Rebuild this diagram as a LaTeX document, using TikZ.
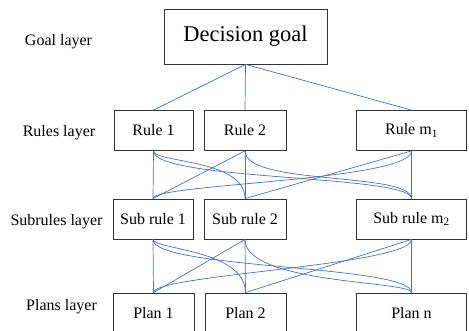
\documentclass[tikz,border=0pt]{standalone}
\usepackage{fontspec}
\setmainfont{Liberation Serif}
\usepackage{tikz}
\definecolor{linkblue}{RGB}{68,114,196}

\begin{document}
\begin{tikzpicture}[x=1pt,y=1pt,
        box/.style={draw=black!80, line width=0.8pt, inner sep=0pt, minimum height=40pt, font=\fontsize{16}{18}\selectfont},
        layer/.style={font=\fontsize{16}{18}\selectfont},
        link/.style={draw=linkblue, line width=0.7pt}]
        \clip (0,0) rectangle (469,-331);
        % layer names
        \node[layer] (lgoal) at (58.5,-42) {Goal layer};
        \node[layer] (lrules) at (59,-133) {Rules layer};
        \node[layer] (lsub) at (56.5,-222) {Subrules layer};
        \node[layer] (lplans) at (61.5,-307) {Plans layer};
        % boxes
        \node[box, minimum width=163pt, minimum height=55pt, font=\fontsize{22.5}{24}\selectfont] (goal) at (245.5,-36.5) {Decision goal};
        \node[box, minimum width=79pt] (r1) at (153.5,-130.5) {Rule 1};
        \node[box, minimum width=82pt] (r2) at (245,-130.5) {Rule 2};
        \node[box, minimum width=110pt] (rm) at (411.5,-130.5) {Rule m\textsubscript{1}};
        \node[box, minimum width=80pt] (s1) at (153,-219) {Sub rule 1};
        \node[box, minimum width=82pt] (s2) at (245,-219) {Sub rule 2};
        \node[box, minimum width=110pt] (sm) at (411.5,-219) {Sub rule m\textsubscript{2}};
        \node[box, minimum width=81pt] (p1) at (153.5,-313) {Plan 1};
        \node[box, minimum width=81pt] (p2) at (245.5,-313) {Plan 2};
        \node[box, minimum width=110pt] (pn) at (411.5,-313) {Plan n};
        % goal to rules
        \draw[link] (goal.south) -- (r1.north);
        \draw[link] (goal.south) -- (r2.north);
        \draw[link] (goal.south) -- (rm.north);
        % rules to sub rules
        \draw[link] (r1.south) -- (s1.north);
        \draw[link] (r2.south) -- (s2.north);
        \draw[link] (rm.south) -- (sm.north);
        \draw[link] (r2.south) -- (s1.north);
        \draw[link] (rm.south) -- (s2.north);
        \draw[link] (r1.south) .. controls +(0,-12) and +(0,40) .. (s2.north);
        \draw[link] (r1.south) .. controls +(0,-30) and +(0,24) .. (sm.north);
        \draw[link] (r2.south) .. controls +(0,-35) and +(0,27) .. (sm.north);
        \draw[link] (rm.south) .. controls +(0,-30) and +(0,15) .. (s1.north);
        % sub rules to plans
        \draw[link] (s1.south) -- (p1.north);
        \draw[link] (s2.south) -- (p2.north);
        \draw[link] (sm.south) -- (pn.north);
        \draw[link] (s2.south) -- (p1.north);
        \draw[link] (sm.south) -- (p2.north);
        \draw[link] (s1.south) .. controls +(0,-10) and +(0,43) .. (p2.north);
        \draw[link] (s1.south) .. controls +(0,-30) and +(0,28) .. (pn.north);
        \draw[link] (s2.south) .. controls +(0,-45) and +(0,12) .. (pn.north);
        \draw[link] (sm.south) .. controls +(0,-26) and +(0,18) .. (p1.north);
\end{tikzpicture}
\end{document}
